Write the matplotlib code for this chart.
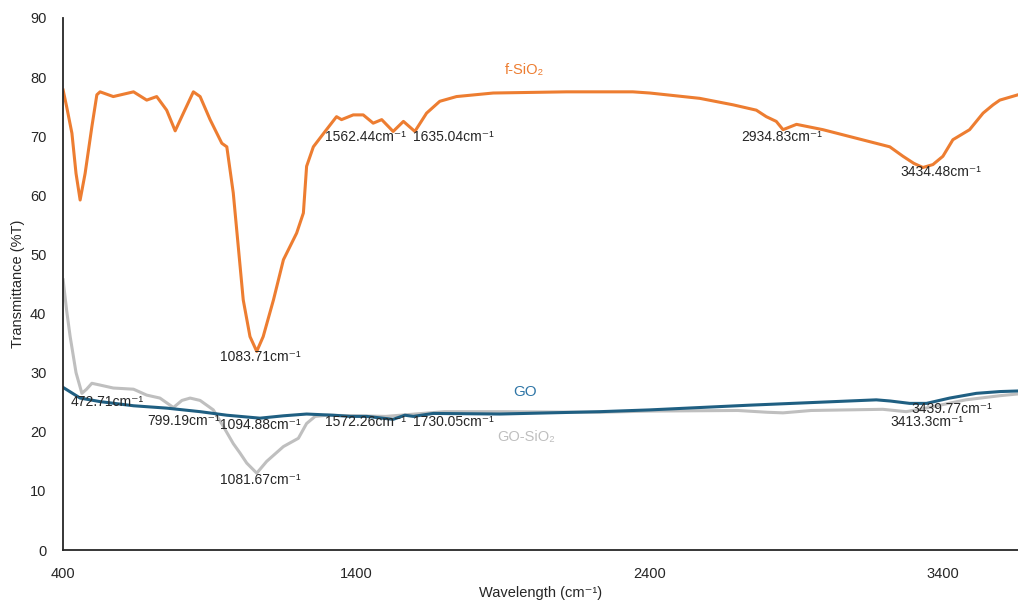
import matplotlib
matplotlib.use("Agg")
import matplotlib.pyplot as plt

plt.rcParams['font.family'] = ['Liberation Sans', 'DejaVu Sans']

# f-SiO2 spectrum
fsio2_wn = [400, 412, 430, 444, 458, 475, 498, 515, 526, 571, 640, 685, 719, 753, 782, 810, 844,
            867, 901, 941, 958, 980, 1014, 1037, 1060, 1082, 1117, 1151, 1196, 1219, 1230, 1253,
            1293, 1332, 1349, 1389, 1423, 1457, 1486, 1525, 1560, 1599, 1639, 1684, 1741, 1866,
            2116, 2342, 2400, 2570, 2684, 2763, 2797, 2831, 2854, 2900, 2990, 3218, 3263, 3300,
            3331, 3365, 3399, 3433, 3490, 3536, 3570, 3593, 3655]
fsio2_t = [77.8, 75.0, 70.5, 63.7, 59.2, 63.7, 71.6, 77.0, 77.5, 76.7, 77.5, 76.1, 76.7, 74.4,
           70.9, 73.9, 77.5, 76.7, 72.8, 68.8, 68.2, 60.4, 42.3, 36.1, 33.6, 36.1, 42.3, 49.1,
           53.6, 57.0, 64.9, 68.2, 70.8, 73.3, 72.8, 73.6, 73.6, 72.2, 72.8, 70.8, 72.5, 70.8,
           73.9, 75.9, 76.7, 77.3, 77.5, 77.5, 77.3, 76.4, 75.3, 74.4, 73.3, 72.5, 71.1, 72.0,
           71.1, 68.2, 66.6, 65.4, 64.7, 65.2, 66.6, 69.4, 71.1, 73.9, 75.3, 76.1, 77.0]

# GO spectrum
go_wn = [400, 458, 526, 640, 753, 867, 958, 1071, 1151, 1230, 1321, 1378, 1435, 1525, 1565,
         1594, 1662, 1889, 2230, 2400, 2570, 2741, 3172, 3220, 3286, 3343, 3422, 3513, 3593, 3655]
go_t = [27.5, 25.7, 25.1, 24.4, 24.0, 23.4, 22.8, 22.3, 22.7, 23.0, 22.8, 22.6, 22.6, 22.1, 22.8,
        22.6, 23.1, 23.0, 23.4, 23.7, 24.1, 24.5, 25.4, 25.2, 24.8, 24.8, 25.7, 26.5, 26.8, 26.9]

# GO-SiO2 spectrum
gosio2_wn = [400, 412, 424, 444, 464, 480, 498, 526, 571, 640, 685, 730, 776, 805, 833, 867,
             912, 945, 980, 1003, 1026, 1060, 1094, 1151, 1202, 1230, 1259, 1300, 1500, 1700,
             1900, 2230, 2400, 2700, 2800, 2854, 2950, 3194, 3274, 3340, 3477, 3593, 3655]
gosio2_t = [45.7, 40.5, 36.1, 30.0, 26.5, 27.2, 28.2, 27.9, 27.4, 27.2, 26.2, 25.7, 24.1, 25.3,
            25.7, 25.3, 23.7, 21.0, 18.0, 16.4, 14.7, 13.0, 15.0, 17.5, 18.9, 21.4, 22.6, 22.8,
            22.6, 23.4, 23.4, 23.3, 23.5, 23.6, 23.3, 23.2, 23.6, 23.8, 23.4, 24.0, 25.4, 26.1, 26.4]

# peak annotations: text, x, y (data coords of label centre)
peak_labels = [
    ("1083.71cm⁻¹", 1071, 32.7),
    ("1562.44cm⁻¹", 1432, 69.9),
    ("1635.04cm⁻¹", 1729, 69.9),
    ("2934.83cm⁻¹", 2850, 69.9),
    ("3434.48cm⁻¹", 3391, 64.0),
    ("472.71cm⁻¹", 550, 25.0),
    ("799.19cm⁻¹", 812, 21.8),
    ("1094.88cm⁻¹", 1071, 21.1),
    ("1081.67cm⁻¹", 1071, 11.8),
    ("1572.26cm⁻¹", 1432, 21.7),
    ("1730.05cm⁻¹", 1729, 21.7),
    ("3439.77cm⁻¹", 3430, 23.9),
    ("3413.3cm⁻¹", 3344, 21.6),
]

orange = '#ED7D31'
blue = '#1F5F82'
gray = '#BFBFBF'

fig = plt.figure(figsize=(10.18, 6.06), dpi=100)
ax = fig.add_axes([0.062, 0.0924, 0.938, 0.878])

ax.plot(gosio2_wn, gosio2_t, color=gray, lw=2.2)
ax.plot(go_wn, go_t, color=blue, lw=2.2)
ax.plot(fsio2_wn, fsio2_t, color=orange, lw=2.2)

for txt, x, y in peak_labels:
    ax.text(x, y, txt, ha='center', va='center', fontsize=10, color='#262626')

ax.text(1973, 81.2, "f-SiO₂", ha='center', va='center', fontsize=10.5, color=orange)
ax.text(1973, 26.7, "GO", ha='center', va='center', fontsize=11, color='#2E75A6')
ax.text(1980, 19.1, "GO-SiO₂", ha='center', va='center', fontsize=10.5, color=gray)

ax.set_xlim(400, 3655)
ax.set_ylim(0, 90)
ax.set_xticks([400, 1400, 2400, 3400])
ax.set_yticks(range(0, 91, 10))
ax.tick_params(length=0, labelsize=10.5, colors='#262626', pad=12)
for s in ['top', 'right']:
    ax.spines[s].set_visible(False)
for s in ['left', 'bottom']:
    ax.spines[s].set_color('#262626')
    ax.spines[s].set_linewidth(1.3)

ax.set_xlabel("Wavelength (cm⁻¹)", fontsize=10.5, color='#262626')
ax.set_ylabel("Transmittance (%T)", fontsize=10.5, color='#262626')

fig.savefig("out.png", dpi=100)
